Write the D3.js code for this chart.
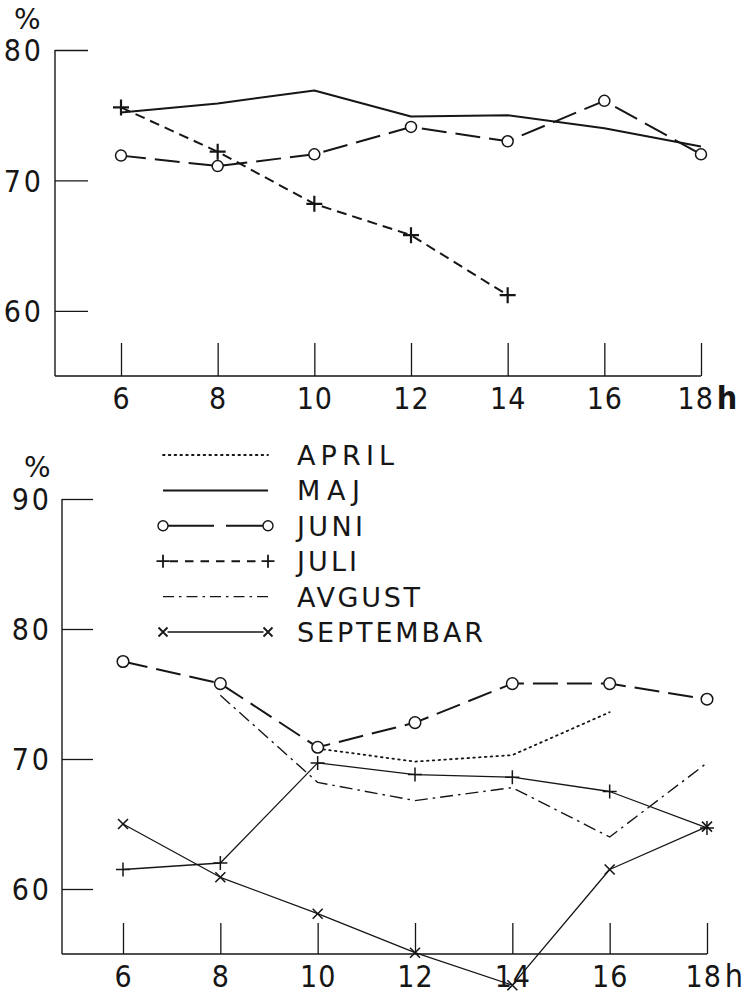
<!DOCTYPE html>
<html>
<head>
<meta charset="utf-8">
<script src="https://cdn.jsdelivr.net/npm/d3@7"></script>
<style>
  html, body { margin: 0; padding: 0; background: #fff; }
  svg { display: block; }
  text { font-family: "DejaVu Sans", "Liberation Sans", sans-serif; fill: #161616; }
  .num { font-family: "DejaVu Sans Condensed", "DejaVu Sans", sans-serif; font-stretch: condensed; }
</style>
</head>
<body>
<svg id="chart" width="750" height="995"></svg>
<script>
// Hours of day (x axis, both panels)
const hours = [6, 8, 10, 12, 14, 16, 18];

// Upper panel: relative humidity (%)
const topMaj  = [75.2, 75.9, 76.9, 74.9, 75, 74, 72.6];
const topJuni = [71.9, 71.1, 72, 74.1, 73, 76.1, 72];
const topJuli = [75.6, 72.2, 68.2, 65.8, 61.2, null, null];
const topYTicks = [60, 70, 80];

// Lower panel: relative humidity (%)
const botApril     = [null, null, 70.8, 69.8, 70.3, 73.6, null];
const botJuni      = [77.5, 75.8, 70.9, 72.8, 75.8, 75.8, 74.6];
const botJuli      = [61.5, 62, 69.7, 68.8, 68.6, 67.5, 64.7];
const botAvgust    = [null, 74.9, 68.2, 66.8, 67.8, 64, 69.7];
const botSeptembar = [65, 60.9, 58.1, 55.1, 52.6, 61.5, 64.8];
const botYTicks = [60, 70, 80, 90];

// Legend entries
const legendLabels = ["APRIL", "MAJ", "JUNI", "JULI", "AVGUST", "SEPTEMBAR"];

const ink = "#161616";
const svg = d3.select("#chart");

// Line / marker styles
const styles = {
  april:  { width: 1.8, dash: "1.6,4.2", cap: "round" },
  maj:    { width: 2.0, dash: null },
  juni:   { width: 2.0, dash: "25,9" },
  juliTop:{ width: 2.0, dash: "10,6" },
  juliBot:{ width: 1.3, dash: null },
  avgust: { width: 1.4, dash: "13,5,2.5,5" },
  sept:   { width: 1.3, dash: null }
};

const plusPath  = s => `M${-s},0H${s}M0,${-s}V${s}`;
const crossPath = s => `M${-s},${-s}L${s},${s}M${-s},${s}L${s},${-s}`;

function drawPanel(g, cfg) {
  const x = d3.scaleLinear().domain([6, 18]).range(cfg.xRange);
  const y = d3.scaleLinear().domain(cfg.yDomain).range(cfg.yRange);
  const yTop = cfg.yTicks[cfg.yTicks.length - 1];

  // y axis: ticks pointing into the plot
  const ya = g.append("g").attr("transform", `translate(${cfg.left},0)`)
    .call(d3.axisLeft(y).tickValues(cfg.yTicks).tickSizeInner(-cfg.tick).tickSizeOuter(0)
      .tickPadding(cfg.yPad).tickFormat(d3.format("d")));
  ya.select(".domain").attr("stroke", ink).attr("stroke-width", 1.4)
    .attr("d", `M0,${y.range()[0]}V${y(yTop)}`);
  ya.selectAll(".tick line").attr("stroke", ink).attr("stroke-width", 1.3);
  ya.selectAll(".tick text").attr("class", "num").attr("font-size", cfg.fs).attr("letter-spacing", 3)
    .attr("font-family", null).attr("fill", ink).attr("dy", "0.36em");

  // x axis: ticks pointing up
  const xa = g.append("g").attr("transform", `translate(0,${y.range()[0]})`)
    .call(d3.axisBottom(x).tickValues(hours).tickSizeInner(-cfg.tick).tickSizeOuter(0)
      .tickPadding(cfg.xPad).tickFormat(d3.format("d")));
  xa.select(".domain").attr("stroke", ink).attr("stroke-width", 1.5)
    .attr("d", `M${cfg.left},0H${x(18)}`);
  xa.selectAll(".tick line").attr("stroke", ink).attr("stroke-width", 1.3);
  xa.selectAll(".tick text").attr("class", "num").attr("font-size", cfg.fs).attr("letter-spacing", 1)
    .attr("font-family", null).attr("fill", ink);
  // unit "h" after the last hour label
  const last = xa.selectAll(".tick text").filter(d => d === 18);
  last.append("tspan").attr("font-weight", cfg.hBold ? "bold" : "normal")
    .attr("font-size", cfg.fs + 2).attr("dx", 3).text("h");
  last.attr("text-anchor", "start").attr("x", cfg.lastX);

  // "%" unit above y axis
  g.append("text").attr("x", cfg.pctX).attr("y", cfg.pctY)
    .attr("font-size", cfg.fs - 2).text("%");

  return { x, y };
}

function drawSeries(g, sc, values, st) {
  const pts = hours.map((h, i) => [h, values[i]]).filter(d => d[1] != null);
  const line = d3.line().x(d => sc.x(d[0])).y(d => sc.y(d[1]));
  g.append("path").attr("d", line(pts)).attr("fill", "none")
    .attr("stroke", ink).attr("stroke-width", st.width)
    .attr("stroke-dasharray", st.dash).attr("stroke-linecap", st.cap || "butt")
    .attr("stroke-linejoin", "round");
  return pts;
}

function drawMarkers(g, sc, pts, kind, size, sw) {
  const sel = g.append("g").selectAll("g").data(pts).join("g")
    .attr("transform", d => `translate(${sc.x(d[0])},${sc.y(d[1])})`);
  if (kind === "circle") {
    sel.append("circle").attr("r", size).attr("fill", "#fff")
      .attr("stroke", ink).attr("stroke-width", sw);
  } else {
    sel.append("path").attr("d", kind === "plus" ? plusPath(size) : crossPath(size))
      .attr("stroke", ink).attr("stroke-width", sw).attr("fill", "none");
  }
}

// ---------- Upper panel ----------
const gTop = svg.append("g");
const scTop = drawPanel(gTop, {
  xRange: [121, 701], yDomain: [55, 80], yRange: [376, 50], yTicks: topYTicks,
  left: 55, tick: 33, yPad: 11, xPad: 12, fs: 30, pctX: 14, pctY: 29,
  lastX: -24, hBold: true
});
drawSeries(gTop, scTop, topMaj, styles.maj);
const juliTopPts = drawSeries(gTop, scTop, topJuli, styles.juliTop);
const juniTopPts = drawSeries(gTop, scTop, topJuni, styles.juni);
drawMarkers(gTop, scTop, juliTopPts, "plus", 8, 2.2);
drawMarkers(gTop, scTop, juniTopPts, "circle", 5.5, 1.5);

// ---------- Lower panel ----------
const gBot = svg.append("g");
const scBot = drawPanel(gBot, {
  xRange: [123, 707], yDomain: [55, 90], yRange: [954, 499], yTicks: botYTicks,
  left: 62, tick: 31, yPad: 10, xPad: 12, fs: 30, pctX: 24, pctY: 477,
  lastX: -22, hBold: false
});
drawSeries(gBot, scBot, botApril, styles.april);
drawSeries(gBot, scBot, botAvgust, styles.avgust);
const septPts = drawSeries(gBot, scBot, botSeptembar, styles.sept);
const juliBotPts = drawSeries(gBot, scBot, botJuli, styles.juliBot);
const juniBotPts = drawSeries(gBot, scBot, botJuni, styles.juni);
drawMarkers(gBot, scBot, septPts, "cross", 5, 1.6);
drawMarkers(gBot, scBot, juliBotPts, "plus", 7, 1.5);
drawMarkers(gBot, scBot, juniBotPts, "circle", 5.8, 1.5);

// ---------- Legend ----------
const legend = svg.append("g");
const legY = d3.scalePoint().domain(legendLabels).range([455, 632]);
const legX = d3.scaleLinear().domain([0, 1]).range([163, 268]);
const legendStyle = [
  { st: styles.april },
  { st: styles.maj },
  { st: { width: 2.0, dash: "46,12" }, mark: "circle", size: 5, sw: 1.4 },
  { st: { width: 2.0, dash: "8.5,7" }, mark: "plus", size: 6.5, sw: 1.8 },
  { st: { width: 1.4, dash: "11,5,2.5,5" } },
  { st: styles.sept, mark: "cross", size: 4.5, sw: 1.8 }
];
const legendWidths = [97, 63, 66, 60, 123, 186];
legendLabels.forEach((lab, i) => {
  const ly = legY(lab);
  const ls = legendStyle[i];
  const inset = ls.mark ? ls.size : 0;
  legend.append("path").attr("d", `M${legX(0) + inset},${ly}H${legX(1) - inset}`)
    .attr("stroke", ink).attr("stroke-width", ls.st.width)
    .attr("stroke-dasharray", ls.st.dash).attr("stroke-linecap", ls.st.cap || "butt")
    .attr("fill", "none");
  if (ls.mark) {
    [0, 1].forEach(t => {
      const m = legend.append("g").attr("transform", `translate(${legX(t)},${ly})`);
      if (ls.mark === "circle") {
        m.append("circle").attr("r", ls.size).attr("fill", "#fff")
          .attr("stroke", ink).attr("stroke-width", ls.sw);
      } else {
        m.append("path").attr("d", ls.mark === "plus" ? plusPath(ls.size) : crossPath(ls.size))
          .attr("stroke", ink).attr("stroke-width", ls.sw);
      }
    });
  }
  legend.append("text").attr("x", 297).attr("y", ly + 10)
    .attr("font-size", 27).attr("textLength", legendWidths[i])
    .attr("lengthAdjust", "spacing").text(lab);
});
</script>
</body>
</html>
